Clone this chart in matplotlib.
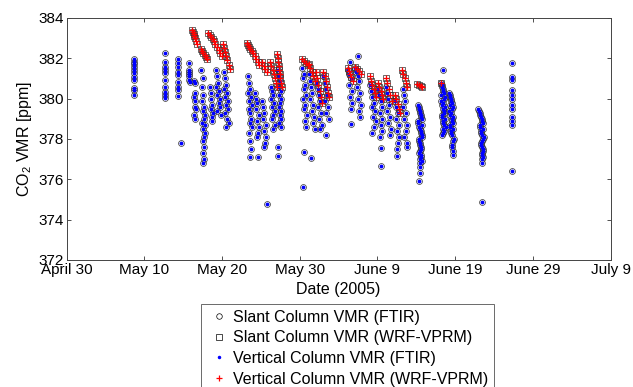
import numpy as np
import matplotlib
matplotlib.use('Agg')
import matplotlib.pyplot as plt
from matplotlib.lines import Line2D

plt.rcParams['font.family'] = 'Liberation Sans'
plt.rcParams['mathtext.fontset'] = 'custom'
plt.rcParams['mathtext.rm'] = 'Liberation Sans'
plt.rcParams['mathtext.it'] = 'Liberation Sans:italic'

# time axis = days since April 30 2005
tick_days = [0, 10, 20, 30, 40, 50, 60, 70]
tick_labels = ['April 30', 'May 10', 'May 20', 'May 30', 'June 9', 'June 19', 'June 29', 'July 9']

# FTIR retrievals (slant column ~ vertical column, one line per measurement day)
ftir_day = [
    8.62, 8.66, 8.64, 8.68, 8.65, 8.70, 8.63, 8.67, 8.69, 8.64, 8.66,
    12.62, 12.66, 12.64, 12.68, 12.63, 12.67, 12.65, 12.69, 12.64, 12.66,
    14.28, 14.32, 14.36, 14.30, 14.40, 14.34, 14.38, 14.31, 14.35, 14.72,
    15.70, 15.74, 15.78, 15.72, 15.80, 15.76, 15.82,
    16.40, 16.48, 16.52, 16.44, 16.58, 16.50, 16.62, 16.46, 16.55,
    17.35, 17.50, 17.42, 17.60, 17.48, 17.70, 17.55, 17.80, 17.62, 17.45, 17.75, 17.58, 17.85, 17.66, 17.52, 17.72, 17.60, 17.68, 17.56,
    18.45, 18.60, 18.52, 18.70, 18.58, 18.78, 18.66, 18.74,
    19.20, 19.35, 19.50, 19.28, 19.62, 19.42, 19.75, 19.55, 19.68, 19.38, 19.82,
    20.20, 20.35, 20.50, 20.30, 20.65, 20.42, 20.80, 20.55, 20.72, 20.38, 20.60, 20.85, 20.48,
    23.30, 23.45, 23.60, 23.38, 23.72, 23.52, 23.85, 23.42, 23.66, 23.78, 23.55, 23.90, 23.48, 23.62, 23.70, 23.58,
    24.25, 24.40, 24.55, 24.32, 24.70, 24.48, 24.80, 24.62, 24.45, 24.58, 25.80,
    25.15, 25.30, 25.45, 25.22, 25.60, 25.38, 25.70, 25.52, 25.42,
    26.25, 26.40, 26.55, 26.32, 26.70, 26.48, 26.85, 26.62, 26.42, 26.78, 26.58,
    27.15, 27.30, 27.45, 27.22, 27.58, 27.38, 27.65, 27.50, 27.28, 27.60, 27.42, 27.55, 27.35, 27.62, 27.20, 27.20,
    30.35, 30.50, 30.42, 30.65, 30.55, 30.80, 30.48, 30.72, 30.60, 30.90, 30.68, 30.85, 30.50, 30.40,
    31.15, 31.30, 31.45, 31.60, 31.38, 31.75, 31.52, 31.88, 31.68, 31.95, 31.50,
    32.15, 32.30, 32.45, 32.60, 32.38, 32.75, 32.52, 32.85, 32.65,
    33.05, 33.20, 33.35, 33.50, 33.28, 33.65, 33.42, 33.80, 33.40,
    36.50, 36.25, 36.40, 36.55, 36.32, 36.68, 36.45, 36.75, 36.60, 36.55,
    37.45, 37.15, 37.30, 37.45, 37.60, 37.38, 37.72, 37.52, 37.85, 37.65, 37.78,
    39.05, 39.20, 39.35, 39.50, 39.28, 39.65, 39.42, 39.78, 39.58, 39.30,
    40.10, 40.25, 40.40, 40.55, 40.32, 40.65, 40.48, 40.60, 40.38, 40.50, 40.50,
    41.05, 41.20, 41.35, 41.50, 41.28, 41.65, 41.42, 41.80, 41.58,
    42.30, 42.45, 42.60, 42.38, 42.72, 42.52, 42.80, 42.65, 42.48, 42.58,
    43.25, 43.40, 43.55, 43.32, 43.70, 43.48, 43.82, 43.62, 43.45, 43.75, 43.78,
    45.20, 45.35, 45.50, 45.65, 45.28, 45.80, 45.42, 45.58, 45.72, 45.32, 45.48, 45.62, 45.38, 45.55, 45.70, 45.45, 45.52, 45.40,
    45.30, 45.45, 45.60, 45.75, 45.25, 45.40, 45.55, 45.68, 45.35, 45.50, 45.62, 45.44, 45.58, 45.48, 45.52,
    48.50, 48.15, 48.30, 48.45, 48.22, 48.60, 48.38, 48.72, 48.52, 48.28, 48.65, 48.42, 48.80, 48.55, 48.35,
    48.25, 48.40, 48.55, 48.70, 48.20, 48.35, 48.50, 48.62, 48.30, 48.45, 48.58, 48.38, 48.48,
    49.20, 49.35, 49.50, 49.28, 49.65, 49.42, 49.78, 49.58, 49.32, 49.70, 49.48, 49.85, 49.60, 49.68, 49.75,
    49.30, 49.45, 49.60, 49.75, 49.25, 49.40, 49.55, 49.68, 49.38, 49.52, 49.64, 49.72, 49.66,
    53.00, 53.15, 53.30, 53.45, 53.22, 53.60, 53.38, 53.70, 53.52, 53.28, 53.65, 53.42, 53.55, 53.48, 53.45,
    53.10, 53.25, 53.40, 53.55, 53.18, 53.35, 53.50, 53.62, 53.30, 53.45, 53.58, 53.40, 53.50,
    57.30, 57.28, 57.32, 57.29, 57.31, 57.30, 57.28, 57.32, 57.30, 57.29, 57.31, 57.30,
]
ftir_ppm = [
    381.95, 381.83, 381.70, 381.59, 381.42, 381.26, 381.09, 380.93, 380.51, 380.43, 380.18,
    382.25, 381.83, 381.59, 381.42, 381.26, 380.93, 380.60, 380.35, 380.18, 380.02,
    381.95, 381.78, 381.59, 381.34, 381.17, 380.84, 380.60, 380.43, 380.14, 377.79,
    381.75, 381.40, 381.30, 381.20, 381.10, 380.95, 380.85,
    380.90, 380.80, 380.30, 380.10, 379.90, 379.60, 379.50, 379.20, 379.00,
    381.4, 381.0, 380.6, 380.2, 379.9, 379.6, 379.4, 379.2, 379.0, 378.8, 378.7, 378.5, 378.3, 378.1, 377.9, 377.6, 377.3, 377.0, 376.8,
    380.6, 380.3, 380.0, 379.7, 379.5, 379.3, 379.1, 378.9,
    381.4, 381.1, 380.8, 380.6, 380.4, 380.2, 380.0, 379.8, 379.6, 379.4, 379.2,
    381.3, 381.0, 380.7, 380.5, 380.3, 380.1, 379.9, 379.7, 379.5, 379.3, 379.0, 378.8, 378.6,
    381.1, 380.8, 380.5, 380.3, 380.1, 379.9, 379.7, 379.5, 379.3, 379.0, 378.8, 378.6, 378.3, 377.9, 377.5, 377.1,
    380.3, 380.0, 379.8, 379.5, 379.2, 378.9, 378.6, 378.3, 378.1, 377.1, 374.8,
    379.9, 379.6, 379.3, 379.0, 378.7, 378.4, 378.1, 377.8, 377.6,
    380.6, 380.4, 380.2, 380.0, 379.8, 379.6, 379.4, 379.2, 379.0, 378.7, 378.5,
    381.4, 381.1, 380.9, 380.6, 380.4, 380.2, 380.0, 379.8, 379.6, 379.4, 379.2, 379.0, 378.8, 378.6, 377.6, 377.16,
    381.5, 381.2, 381.0, 380.7, 380.5, 380.2, 380.0, 379.7, 379.5, 379.2, 378.9, 378.6, 377.35, 375.6,
    381.2, 380.9, 380.6, 380.3, 380.0, 379.7, 379.4, 379.1, 378.8, 378.5, 377.05,
    380.8, 380.5, 380.2, 379.9, 379.6, 379.3, 379.0, 378.7, 378.5,
    381.1, 380.8, 380.5, 380.2, 379.9, 379.6, 379.3, 379.0, 378.2,
    381.8, 381.4, 381.2, 381.0, 380.7, 380.4, 380.1, 379.8, 379.5, 378.75,
    382.1, 381.5, 381.3, 381.1, 380.9, 380.6, 380.3, 380.0, 379.7, 379.4, 379.1,
    380.7, 380.4, 380.1, 379.8, 379.6, 379.4, 379.1, 378.9, 378.6, 378.3,
    380.5, 380.2, 379.9, 379.6, 379.3, 379.0, 378.7, 378.4, 378.1, 377.55, 376.66,
    380.6, 380.3, 380.0, 379.7, 379.4, 379.1, 378.8, 378.5, 378.2,
    379.9, 379.6, 379.3, 379.0, 378.7, 378.4, 378.1, 377.8, 377.5, 377.15,
    380.5, 380.2, 379.9, 379.6, 379.3, 379.0, 378.7, 378.4, 378.1, 377.8, 377.6,
    379.7, 379.5, 379.3, 379.1, 378.9, 378.7, 378.5, 378.3, 378.1, 377.9, 377.7, 377.5, 377.3, 377.1, 376.9, 376.6, 376.3, 375.9,
    379.6, 379.4, 379.2, 379.0, 378.8, 378.6, 378.4, 378.2, 378.0, 377.8, 377.6, 377.4, 377.2, 377.0, 376.8,
    381.4, 380.8, 380.6, 380.4, 380.2, 380.0, 379.8, 379.6, 379.4, 379.2, 379.0, 378.8, 378.6, 378.4, 378.2,
    380.7, 380.5, 380.3, 380.1, 379.9, 379.7, 379.5, 379.3, 379.1, 378.9, 378.7, 378.5, 378.3,
    380.3, 380.1, 379.9, 379.7, 379.5, 379.3, 379.1, 378.9, 378.7, 378.5, 378.3, 378.0, 377.7, 377.4, 377.2,
    380.2, 380.0, 379.8, 379.6, 379.4, 379.2, 379.0, 378.8, 378.6, 378.4, 378.2, 377.9, 377.6,
    379.5, 379.3, 379.1, 378.9, 378.7, 378.5, 378.3, 378.1, 377.9, 377.7, 377.5, 377.3, 377.1, 376.8, 374.9,
    379.4, 379.2, 379.0, 378.8, 378.6, 378.4, 378.2, 378.0, 377.8, 377.6, 377.4, 377.2, 377.0,
    381.77, 381.07, 380.93, 380.43, 380.2, 380.0, 379.7, 379.5, 379.1, 378.9, 378.7, 376.4,
]

# WRF-VPRM model sampled at the FTIR times
wrf_day = [
    16.15, 16.25, 16.35, 16.45, 16.55, 16.65, 16.80,
    17.30, 17.45, 17.60, 17.75, 17.90, 18.05,
    18.20, 18.40, 18.60, 18.80, 19.00,
    19.15, 19.35, 19.55, 19.75, 19.95,
    20.15, 20.28, 20.42, 20.56, 20.70, 20.84, 20.98,
    23.20, 23.35, 23.50, 23.65, 23.80, 23.95,
    24.20, 24.40, 24.60, 24.80,
    25.10, 25.35, 25.55, 25.75,
    26.20, 26.35, 26.50, 26.65, 26.80, 26.95, 27.05,
    27.10, 27.17, 27.24, 27.31, 27.38, 27.45, 27.52, 27.59, 27.66,
    30.30, 30.55, 30.80, 31.05,
    31.15, 31.35, 31.55, 31.75, 31.95,
    32.10, 32.25, 32.40, 32.55, 32.70, 32.85,
    33.05, 33.20, 33.35, 33.50, 33.65, 33.80,
    36.20, 36.35, 36.50, 36.65, 36.80,
    37.15, 37.40, 37.65, 37.90,
    39.05, 39.20, 39.35, 39.50, 39.65, 39.80,
    40.10, 40.25, 40.40, 40.55, 40.70,
    41.05, 41.25, 41.45, 41.65, 41.85,
    42.30, 42.45, 42.60, 42.75, 42.90,
    43.20, 43.35, 43.50, 43.65, 43.80,
    45.15, 45.35, 45.55, 45.75,
    48.15,
]
wrf_ppm = [
    383.40, 383.30, 383.20, 383.10, 383.00, 382.85, 382.70,
    382.45, 382.35, 382.25, 382.15, 382.05, 381.95,
    383.25, 383.15, 383.05, 382.95, 382.85,
    382.70, 382.55, 382.40, 382.25, 382.10,
    382.70, 382.50, 382.30, 382.10, 381.90, 381.65, 381.45,
    382.75, 382.65, 382.55, 382.45, 382.35, 382.25,
    382.10, 381.95, 381.80, 381.65,
    381.80, 381.60, 381.45, 381.30,
    381.80, 381.60, 381.40, 381.20, 381.00, 380.80, 380.60,
    382.20, 382.00, 381.80, 381.60, 381.40, 381.20, 381.00, 380.80, 380.60,
    381.95, 381.85, 381.75, 381.65,
    381.70, 381.50, 381.30, 381.10, 380.90,
    381.30, 381.00, 380.70, 380.40, 380.10, 379.80,
    381.30, 381.10, 380.90, 380.60, 380.30, 380.10,
    381.50, 381.35, 381.20, 381.05, 380.90,
    381.55, 381.45, 381.35, 381.20,
    381.10, 380.90, 380.70, 380.50, 380.30, 380.10,
    380.80, 380.60, 380.40, 380.20, 380.00,
    381.00, 380.80, 380.50, 380.20, 379.90,
    380.20, 380.00, 379.75, 379.50, 379.30,
    381.40, 381.20, 381.00, 380.80, 380.60,
    380.75, 380.70, 380.65, 380.60,
    380.80,
]

fig = plt.figure(figsize=(6.33, 3.87), dpi=100)
ax = fig.add_axes([0.1052, 0.3282, 0.8593, 0.6253])

ax.plot(ftir_day, ftir_ppm, 'o', mfc='none', mec='#303030', ms=4.2, mew=0.5)
ax.plot(wrf_day, wrf_ppm, 's', mfc='none', mec='#303030', ms=4.2, mew=0.5)
ax.plot(ftir_day, ftir_ppm, '.', color='b', ms=3.5)
ax.plot(wrf_day, wrf_ppm, '+', color='r', ms=5, mew=0.9)

ax.set_xlim(0, 70)
ax.set_ylim(372, 384)
ax.set_xticks(tick_days)
ax.set_xticklabels(tick_labels)
ax.set_yticks(np.arange(372, 385, 2))
ax.tick_params(direction='in', length=3, width=0.6, top=True, right=True,
               labelsize=11, pad=2, colors='#333333', labelcolor='k')
for s in ax.spines.values():
    s.set_linewidth(0.7)
    s.set_color('#444444')

ax.set_xlabel('Date (2005)', fontsize=11.5, labelpad=3.5)
ax.set_ylabel('CO$_2$ VMR [ppm]', fontsize=11.5, labelpad=3)

handles = [
    Line2D([], [], ls='none', marker='o', mfc='none', mec='k', ms=4, mew=0.5),
    Line2D([], [], ls='none', marker='s', mfc='none', mec='k', ms=4, mew=0.5),
    Line2D([], [], ls='none', marker='.', color='b', ms=3),
    Line2D([], [], ls='none', marker='+', color='r', ms=5, mew=0.9),
]
names = ['Slant Column VMR (FTIR)', 'Slant Column VMR (WRF-VPRM)',
         'Vertical Column VMR (FTIR)', 'Vertical Column VMR (WRF-VPRM)']
leg = fig.legend(handles, names, loc='upper left', bbox_to_anchor=(0.3175, 0.2145),
                 fontsize=11.5, frameon=True, fancybox=False, borderpad=0.35,
                 labelspacing=0.36, handlelength=1.5, handletextpad=0.15,
                 borderaxespad=0)
leg.get_frame().set_edgecolor('#444444')
leg.get_frame().set_linewidth(0.7)

fig.savefig('out.png', dpi=100)
